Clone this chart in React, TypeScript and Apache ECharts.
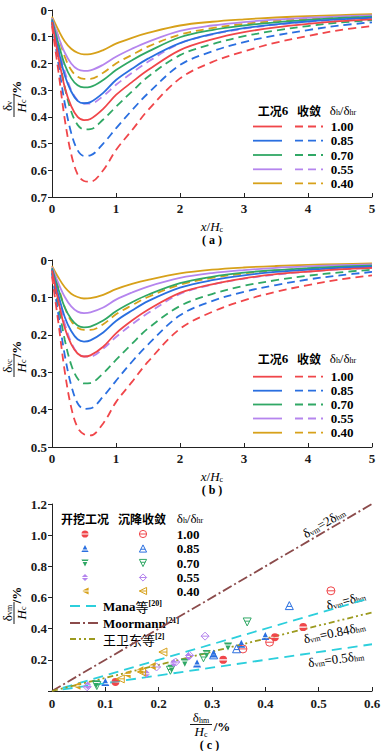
import React, { useEffect, useRef } from "react";
import * as echarts from "echarts";

const SERIF = '"Liberation Serif", "DejaVu Serif", serif';
const CJK = '"Noto Sans CJK SC", sans-serif';
const INK = "#1a1a1a";

// ---------- data ----------
const levelLabels = ["1.00", "0.85", "0.70", "0.55", "0.40"];
const levelColors = ["#f0464a", "#2a6fe0", "#30a865", "#b585ee", "#d7a11a"];

const xRatio = [0, 0.1, 0.2, 0.3, 0.4, 0.5, 0.6, 0.8, 1.0, 1.25, 1.5, 2, 2.5, 3, 3.5, 4, 4.5, 5];

// (a) 工况6 (solid)
const aExc100 = [0.045, 0.175, 0.29, 0.36, 0.4, 0.412, 0.408, 0.37, 0.318, 0.27, 0.225, 0.15, 0.11, 0.083, 0.065, 0.052, 0.042, 0.035];
const aExc085 = [0.04, 0.15, 0.245, 0.305, 0.34, 0.349, 0.345, 0.31, 0.262, 0.22, 0.182, 0.124, 0.09, 0.068, 0.054, 0.043, 0.035, 0.029];
const aExc070 = [0.035, 0.125, 0.205, 0.255, 0.282, 0.29, 0.288, 0.262, 0.225, 0.188, 0.156, 0.102, 0.075, 0.058, 0.046, 0.037, 0.03, 0.025];
const aExc055 = [0.03, 0.1, 0.16, 0.2, 0.222, 0.228, 0.226, 0.205, 0.175, 0.145, 0.119, 0.078, 0.058, 0.045, 0.036, 0.029, 0.024, 0.02];
const aExc040 = [0.025, 0.075, 0.118, 0.145, 0.16, 0.166, 0.165, 0.15, 0.126, 0.104, 0.086, 0.058, 0.044, 0.035, 0.028, 0.023, 0.019, 0.016];
// (a) 收敛 (dashed)
const aConv100 = [0.06, 0.23, 0.41, 0.54, 0.615, 0.64, 0.643, 0.6, 0.524, 0.45, 0.375, 0.256, 0.195, 0.155, 0.122, 0.097, 0.075, 0.06];
const aConv085 = [0.05, 0.2, 0.35, 0.46, 0.525, 0.546, 0.544, 0.5, 0.443, 0.375, 0.312, 0.206, 0.155, 0.12, 0.095, 0.075, 0.058, 0.046];
const aConv070 = [0.045, 0.165, 0.29, 0.38, 0.43, 0.447, 0.446, 0.41, 0.362, 0.305, 0.25, 0.169, 0.128, 0.098, 0.077, 0.06, 0.047, 0.038];
const aConv055 = [0.035, 0.13, 0.23, 0.3, 0.338, 0.35, 0.35, 0.322, 0.28, 0.235, 0.194, 0.125, 0.092, 0.07, 0.055, 0.044, 0.036, 0.03];
const aConv040 = [0.03, 0.1, 0.175, 0.225, 0.25, 0.258, 0.258, 0.235, 0.2, 0.168, 0.137, 0.092, 0.068, 0.052, 0.041, 0.033, 0.027, 0.022];

// (b) 工况6 (solid)
const bExc100 = [0.028, 0.11, 0.182, 0.225, 0.25, 0.258, 0.255, 0.232, 0.196, 0.162, 0.133, 0.088, 0.065, 0.049, 0.038, 0.031, 0.025, 0.021];
const bExc085 = [0.025, 0.094, 0.153, 0.19, 0.212, 0.218, 0.215, 0.194, 0.163, 0.135, 0.11, 0.074, 0.054, 0.041, 0.032, 0.026, 0.021, 0.018];
const bExc070 = [0.022, 0.078, 0.127, 0.158, 0.175, 0.18, 0.178, 0.162, 0.137, 0.113, 0.093, 0.062, 0.045, 0.034, 0.027, 0.022, 0.018, 0.015];
const bExc055 = [0.019, 0.062, 0.099, 0.124, 0.138, 0.142, 0.14, 0.127, 0.106, 0.087, 0.071, 0.048, 0.035, 0.027, 0.021, 0.017, 0.014, 0.012];
const bExc040 = [0.016, 0.047, 0.073, 0.09, 0.099, 0.103, 0.102, 0.093, 0.078, 0.064, 0.053, 0.036, 0.026, 0.02, 0.016, 0.013, 0.011, 0.009];
// (b) 收敛 (dashed)
const bConv100 = [0.044, 0.168, 0.299, 0.394, 0.448, 0.466, 0.469, 0.437, 0.38, 0.326, 0.272, 0.184, 0.139, 0.108, 0.085, 0.067, 0.052, 0.041];
const bConv085 = [0.036, 0.146, 0.255, 0.335, 0.383, 0.398, 0.397, 0.365, 0.323, 0.272, 0.226, 0.148, 0.11, 0.085, 0.067, 0.052, 0.041, 0.032];
const bConv070 = [0.033, 0.122, 0.214, 0.28, 0.317, 0.33, 0.329, 0.303, 0.267, 0.224, 0.183, 0.123, 0.091, 0.069, 0.054, 0.042, 0.033, 0.026];
const bConv055 = [0.026, 0.096, 0.17, 0.221, 0.249, 0.258, 0.258, 0.237, 0.206, 0.172, 0.142, 0.091, 0.066, 0.05, 0.039, 0.031, 0.025, 0.021];
const bConv040 = [0.022, 0.073, 0.127, 0.163, 0.181, 0.187, 0.187, 0.172, 0.145, 0.121, 0.099, 0.066, 0.048, 0.036, 0.028, 0.023, 0.019, 0.015];

// (c) [δhm/Hc, δvm/Hc] — 开挖工况 (filled) and 沉降收敛 (hollow)
const cExc100 = [[0.119, 0.058], [0.321, 0.2], [0.418, 0.345], [0.471, 0.41]];
const cConv100 = [[0.358, 0.27], [0.408, 0.313], [0.523, 0.643]];
const cExc085 = [[0.1, 0.058], [0.272, 0.177], [0.303, 0.24], [0.355, 0.303], [0.4, 0.353]];
const cConv085 = [[0.303, 0.232], [0.346, 0.271], [0.445, 0.548]];
const cExc070 = [[0.083, 0.043], [0.224, 0.143], [0.249, 0.182], [0.29, 0.238], [0.33, 0.285]];
const cConv070 = [[0.084, 0.035], [0.222, 0.133], [0.284, 0.213], [0.366, 0.443]];
const cExc055 = [[0.067, 0.036], [0.177, 0.111], [0.228, 0.18], [0.256, 0.222]];
const cConv055 = [[0.066, 0.027], [0.196, 0.154], [0.232, 0.186], [0.258, 0.228], [0.287, 0.352]];
const cExc040 = [[0.047, 0.033], [0.141, 0.107], [0.165, 0.133], [0.188, 0.16]];
const cConv040 = [[0.128, 0.078], [0.168, 0.122], [0.208, 0.25]];

// reference lines in (c)
const manaUpper = [[0.02, 0.02], [0.59, 0.59]];
const manaLower = [[0.02, 0.01], [0.6, 0.3]];
const moormannLine = [[0, 0], [0.6, 1.2]];
const wangLine = [[0, 0], [0.6, 0.504]];

const aExcSets = [aExc100, aExc085, aExc070, aExc055, aExc040];
const aConvSets = [aConv100, aConv085, aConv070, aConv055, aConv040];
const bExcSets = [bExc100, bExc085, bExc070, bExc055, bExc040];
const bConvSets = [bConv100, bConv085, bConv070, bConv055, bConv040];
const cExcSets = [cExc100, cExc085, cExc070, cExc055, cExc040];
const cConvSets = [cConv100, cConv085, cConv070, cConv055, cConv040];

// ---------- marker shapes ----------
const MK_FILLED = [
  "M-9.9,-1.4 A10,10 0 0 1 9.9,-1.4 Z M-9.9,1.4 A10,10 0 0 0 9.9,1.4 Z",
  "M0,-10 L6.5,3 L-6.5,3 Z M-7.75,5.5 L7.75,5.5 L10,10 L-10,10 Z",
  "M0,10 L-6.5,-3 L6.5,-3 Z M7.75,-5.5 L-7.75,-5.5 L-10,-10 L10,-10 Z",
  "M0,-10 L8.6,-1.4 L-8.6,-1.4 Z M-8.6,1.4 L8.6,1.4 L0,10 Z",
  "M-7.2,-1.4 L10,-10 L10,-1.4 Z M-7.2,1.4 L10,1.4 L10,10 Z",
];
const MK_HOLLOW = [
  "M-10,0 A10,10 0 1 1 10,0 A10,10 0 1 1 -10,0 Z M-10,0 L10,0",
  "M0,-10 L10,10 L-10,10 Z M-6,2 L6,2",
  "M0,10 L-10,-10 L10,-10 Z M-6,-2 L6,-2",
  "M0,-10 L10,0 L0,10 L-10,0 Z M-10,0 L10,0",
  "M-10,0 L10,-10 L10,10 Z M-10,0 L10,0",
];
MK_FILLED.forEach((d, i) => {
  echarts.graphic.registerShape("mkF" + i, echarts.graphic.extendPath(d, {}));
});
MK_HOLLOW.forEach((d, i) => {
  echarts.graphic.registerShape("mkH" + i, echarts.graphic.extendPath(d, {}));
});

// ---------- text helpers ----------
const RICH: any = {
  n: { fontFamily: SERIF, fontSize: 13, lineHeight: 13, color: INK },
  b: { fontFamily: SERIF, fontSize: 13, lineHeight: 13, fontWeight: "bold", color: INK },
  i: { fontFamily: SERIF, fontSize: 13, lineHeight: 13, fontStyle: "italic", color: INK },
  s: { fontFamily: SERIF, fontSize: 8, lineHeight: 7, verticalAlign: "bottom", color: INK },
  sp: { fontFamily: SERIF, fontSize: 8, lineHeight: 7, verticalAlign: "top", fontWeight: "bold", color: INK },
  c: { fontFamily: CJK, fontSize: 12, lineHeight: 13, fontWeight: "bold", color: INK },
  c2: { fontFamily: CJK, fontSize: 13, lineHeight: 13, color: INK },
  p: { fontFamily: SERIF, fontSize: 12, lineHeight: 11, fontWeight: "bold", color: INK },
};

function txt(x: number, y: number, text: string, extra: any = {}) {
  return {
    type: "text",
    x,
    y,
    silent: true,
    style: { text, rich: RICH, align: "center", verticalAlign: "middle", ...extra },
  };
}

function yTitle(cx: number, cy: number, num: string, pctOffset: number) {
  return {
    type: "group",
    x: cx,
    y: cy,
    rotation: Math.PI / 2,
    children: [
      txt(0, -7, num),
      { type: "line", shape: { x1: -11, y1: 0, x2: 11, y2: 0 }, style: { stroke: INK, lineWidth: 1 } },
      txt(0, 7, "{i|H}{s|c}"),
      txt(pctOffset, 2, "{b|/%}"),
    ],
  };
}

function curveLegend(headerY: number, rows: number[]) {
  const els: any[] = [
    txt(273, headerY, "{c|工况}{b|6}"),
    txt(309, headerY, "{c|收敛}"),
    txt(343, headerY, "{n|δ}{s|h}{n|/δ}{s|hr}"),
  ];
  rows.forEach((y, k) => {
    els.push({
      type: "line",
      silent: true,
      shape: { x1: 253, y1: y, x2: 282, y2: y },
      style: { stroke: levelColors[k], lineWidth: 1.8 },
    });
    els.push({
      type: "line",
      silent: true,
      shape: { x1: 295, y1: y, x2: 323, y2: y },
      style: { stroke: levelColors[k], lineWidth: 1.8, lineDash: [8, 5] },
    });
    els.push(txt(342, y, "{b|" + levelLabels[k] + "}"));
  });
  return els;
}

function scatterLegend() {
  const els: any[] = [
    txt(85, 518, "{c|开挖工况}"),
    txt(142, 518, "{c|沉降收敛}"),
    txt(190, 518, "{n|δ}{s|h}{n|/δ}{s|hr}"),
  ];
  const rows = [534, 548.5, 563, 577.5, 591];
  rows.forEach((y, k) => {
    els.push({
      type: "mkF" + k,
      x: 85,
      y,
      scaleX: 0.36,
      scaleY: 0.36,
      silent: true,
      style: { fill: levelColors[k] },
    });
    els.push({
      type: "mkH" + k,
      x: 143,
      y,
      scaleX: 0.36,
      scaleY: 0.36,
      silent: true,
      style: { fill: "none", stroke: levelColors[k], lineWidth: 1 / 0.36 },
    });
    els.push(txt(188, y, "{b|" + levelLabels[k] + "}"));
  });
  const lineRows: [number, string, number[], string][] = [
    [606, "#2ccfdc", [10, 6], "{b|Mana}{c2|等}{sp|[20]}"],
    [623, "#8b4b4b", [10, 3, 2, 3], "{b|Moormann}{sp|[21]}"],
    [639, "#9c9a1e", [6, 3, 2, 3, 2, 3], "{c2|王卫东等}{sp|[2]}"],
  ];
  lineRows.forEach(([y, color, dash, label]) => {
    els.push({
      type: "line",
      silent: true,
      shape: { x1: 70, y1: y, x2: 98, y2: y },
      style: { stroke: color, lineWidth: 1.8, lineDash: dash },
    });
    els.push(txt(103, y, label, { align: "left" }));
  });
  return els;
}

function ann(x: number, y: number, t: string, deg: number) {
  return { ...txt(x, y, t), rotation: (deg * Math.PI) / 180 };
}

// ---------- option ----------
const labelBase = { color: INK, fontFamily: SERIF, fontSize: 13, fontWeight: "bold" };

function axisBase(extra: any) {
  return {
    type: "value",
    splitLine: { show: false },
    axisLine: { show: true, onZero: false, lineStyle: { color: "#222", width: 1 } },
    axisTick: { show: true, length: 4, lineStyle: { color: "#222" } },
    ...extra,
  };
}

function curveSeries(idx: number, ys: number[], color: string, dashed: boolean) {
  return {
    type: "line",
    xAxisIndex: idx,
    yAxisIndex: idx,
    data: xRatio.map((x, i) => [x, ys[i]]),
    smooth: 0.35,
    showSymbol: false,
    symbol: "none",
    silent: true,
    lineStyle: { color, width: 1.8, type: dashed ? [8, 5] : "solid" },
  };
}

function buildOption() {
  const series: any[] = [];
  for (let k = 4; k >= 0; k--) {
    series.push(curveSeries(0, aConvSets[k], levelColors[k], true));
    series.push(curveSeries(0, aExcSets[k], levelColors[k], false));
    series.push(curveSeries(1, bConvSets[k], levelColors[k], true));
    series.push(curveSeries(1, bExcSets[k], levelColors[k], false));
  }
  const refLine = (data: number[][], color: string, type: any) => ({
    type: "line",
    xAxisIndex: 2,
    yAxisIndex: 2,
    data,
    showSymbol: false,
    symbol: "none",
    silent: true,
    lineStyle: { color, width: 1.8, type },
  });
  series.push(refLine(manaUpper, "#2ccfdc", [10, 6]));
  series.push(refLine(manaLower, "#2ccfdc", [10, 6]));
  series.push(refLine(moormannLine, "#8b4b4b", [10, 3, 2, 3]));
  series.push(refLine(wangLine, "#9c9a1e", [6, 3, 2, 3, 2, 3]));
  for (let k = 0; k < 5; k++) {
    series.push({
      type: "scatter",
      xAxisIndex: 2,
      yAxisIndex: 2,
      data: cExcSets[k],
      symbol: "path://" + MK_FILLED[k],
      symbolKeepAspect: true,
      symbolSize: 8,
      silent: true,
      z: 5,
      itemStyle: { color: levelColors[k], opacity: 1 },
    });
    series.push({
      type: "scatter",
      xAxisIndex: 2,
      yAxisIndex: 2,
      data: cConvSets[k],
      symbol: "path://" + MK_HOLLOW[k],
      symbolKeepAspect: true,
      symbolSize: 8,
      silent: true,
      z: 5,
      itemStyle: { color: "rgba(255,255,255,0)", borderColor: levelColors[k], borderWidth: 1, opacity: 1 },
    });
  }

  const f1 = (v: number) => (v === 0 ? "0" : v.toFixed(1));
  const graphics: any[] = [
    yTitle(14, 106, "{n|δ}{s|v}", 17),
    yTitle(14, 366, "{n|δ}{s|vc}", 17),
    yTitle(14, 613, "{n|δ}{s|vm}", 18),
    txt(212, 226.5, "{i|x}{n|/}{i|H}{s|c}"),
    txt(212, 240, "{p|( a )}"),
    txt(212, 476.5, "{i|x}{n|/}{i|H}{s|c}"),
    txt(212, 490, "{p|( b )}"),
    txt(201, 717.5, "{n|δ}{s|hm}"),
    { type: "line", silent: true, shape: { x1: 190, y1: 724.5, x2: 212, y2: 724.5 }, style: { stroke: INK, lineWidth: 1 } },
    txt(201, 731.5, "{i|H}{s|c}"),
    txt(222, 726, "{b|/%}"),
    txt(209.5, 745, "{p|( c )}"),
    ann(324, 523, "{n|δ}{s|vm}{n|=2δ}{s|hm}", 30),
    ann(346, 600.5, "{n|δ}{s|vm}{n|=δ}{s|hm}", 15),
    ann(334.5, 632.5, "{n|δ}{s|vm}{n|=0.84δ}{s|hm}", 12),
    ann(336, 659, "{n|δ}{s|vm}{n|=0.5δ}{s|hm}", 8),
    ...curveLegend(110, [126.5, 140.7, 155, 169.3, 183.3]),
    ...curveLegend(358, [376.7, 390.7, 404.5, 418.5, 432.7]),
    ...scatterLegend(),
  ];

  return {
    animation: false,
    backgroundColor: "#ffffff",
    textStyle: { fontFamily: SERIF },
    grid: [
      { left: 52, top: 10, width: 320, height: 187, containLabel: false, outerBoundsMode: "none" },
      { left: 52, top: 260, width: 320, height: 187, containLabel: false, outerBoundsMode: "none" },
      { left: 52, top: 504, width: 320, height: 187, containLabel: false, outerBoundsMode: "none" },
    ],
    xAxis: [
      axisBase({ gridIndex: 0, min: 0, max: 5, interval: 1, axisTick: { show: true, inside: true, length: 4, lineStyle: { color: "#222" } }, axisLabel: { ...labelBase, margin: 5, formatter: (v: number) => String(Math.round(v)) } }),
      axisBase({ gridIndex: 1, min: 0, max: 5, interval: 1, axisTick: { show: true, inside: true, length: 4, lineStyle: { color: "#222" } }, axisLabel: { ...labelBase, margin: 5, formatter: (v: number) => String(Math.round(v)) } }),
      axisBase({ gridIndex: 2, min: 0, max: 0.6, interval: 0.1, axisTick: { show: true, inside: true, length: 4, lineStyle: { color: "#222" } }, axisLabel: { ...labelBase, margin: 6, formatter: f1 } }),
    ],
    yAxis: [
      axisBase({ gridIndex: 0, min: 0, max: 0.7, interval: 0.1, inverse: true, axisLabel: { ...labelBase, margin: 5, formatter: f1 } }),
      axisBase({ gridIndex: 1, min: 0, max: 0.5, interval: 0.1, inverse: true, axisLabel: { ...labelBase, margin: 5, formatter: f1 } }),
      axisBase({ gridIndex: 2, min: 0, max: 1.2, interval: 0.2, axisLabel: { ...labelBase, margin: 5, formatter: (v: number) => (v === 0 ? "" : v.toFixed(1)) } }),
    ],
    series,
    graphic: { elements: graphics },
  };
}

export default function App() {
  const ref = useRef<HTMLDivElement>(null);
  useEffect(() => {
    if (!ref.current) return;
    const chart = echarts.init(ref.current, undefined, { renderer: "svg" });
    chart.setOption(buildOption() as any);
    return () => chart.dispose();
  }, []);
  return (
    <div
      ref={ref}
      style={{ position: "fixed", left: 0, top: 0, width: 386, height: 751, background: "#fff" }}
    />
  );
}
